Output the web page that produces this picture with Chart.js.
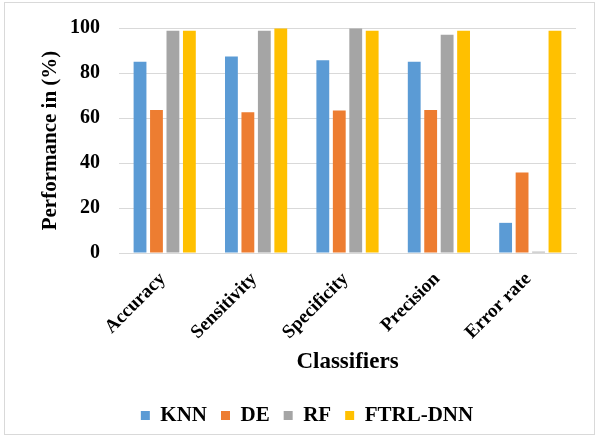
<!DOCTYPE html>
<html>
<head>
<meta charset="utf-8">
<script src="https://cdn.jsdelivr.net/npm/chart.js@4"></script>
<style>
  html, body { margin: 0; padding: 0; background: #fff; }
  #frame {
    position: absolute; left: 4px; top: 2px; width: 591px; height: 433px;
    border: 1px solid #d9d9d9; box-sizing: border-box;
  }
  #wrap { position: absolute; left: 0; top: 0; width: 599px; height: 438px; }
</style>
</head>
<body>
<div id="frame"></div>
<div id="wrap"><canvas id="chart"></canvas></div>
<script>
// Performance of classifiers
const categories = ['Accuracy', 'Sensitivity', 'Specificity', 'Precision', 'Error rate'];
const knn = [85.0, 87.3, 85.7, 85.0, 13.4];
const de = [63.6, 62.6, 63.3, 63.6, 35.8];
const rf = [98.8, 98.8, 99.8, 97.0, 0.6];
const ftrlDnn = [98.8, 99.8, 98.8, 98.8, 98.8];
const yTicks = [0, 20, 40, 60, 80, 100];

const serif = "'Liberation Serif', 'Times New Roman', serif";

new Chart(document.getElementById('chart'), {
  type: 'bar',
  data: {
    labels: categories,
    datasets: [
      { label: 'KNN', data: knn, backgroundColor: '#5B9BD5' },
      { label: 'DE', data: de, backgroundColor: '#ED7D31' },
      { label: 'RF', data: rf, backgroundColor: '#A5A5A5' },
      { label: 'FTRL-DNN', data: ftrlDnn, backgroundColor: '#FFC000' }
    ]
  },
  options: {
    responsive: true,
    maintainAspectRatio: false,
    animation: false,
    layout: {
      padding: { left: 38, right: 23, top: 28, bottom: 2 }
    },
    datasets: {
      bar: {
        categoryPercentage: 0.72,
        barPercentage: 0.78
      }
    },
    plugins: {
      legend: {
        position: 'bottom',
        labels: {
          boxWidth: 9,
          boxHeight: 9,
          padding: 14,
          color: '#000',
          font: { family: serif, size: 21, weight: 'bold' }
        }
      },
      tooltip: { enabled: false }
    },
    scales: {
      x: {
        grid: { display: false },
        border: { color: '#d9d9d9' },
        // fixed axis height so the plot bottom sits where the original has it
        afterFit: axis => { axis.height = 138; },
        ticks: {
          minRotation: 45,
          maxRotation: 45,
          color: '#000',
          padding: 7,
          labelOffset: -2,
          font: { family: serif, size: 19, weight: 'bold' }
        },
        title: {
          display: true,
          text: 'Classifiers',
          color: '#000',
          padding: { top: 0, bottom: 15 },
          font: { family: serif, size: 23, weight: 'bold' }
        }
      },
      y: {
        min: 0,
        max: 100,
        afterBuildTicks: axis => { axis.ticks = yTicks.map(v => ({ value: v })); },
        afterFit: axis => {
          axis.width = 81;
          axis.paddingTop = 0;
          axis.paddingBottom = 0;
        },
        grid: { color: '#d9d9d9', drawTicks: false },
        border: { display: false },
        ticks: {
          color: '#000',
          padding: 19,
          font: { family: serif, size: 20, weight: 'bold' }
        },
        title: {
          display: true,
          text: 'Performance in (%)',
          color: '#000',
          padding: { top: 0, bottom: 10 },
          font: { family: serif, size: 21, weight: 'bold' }
        }
      }
    }
  }
});
</script>
</body>
</html>
